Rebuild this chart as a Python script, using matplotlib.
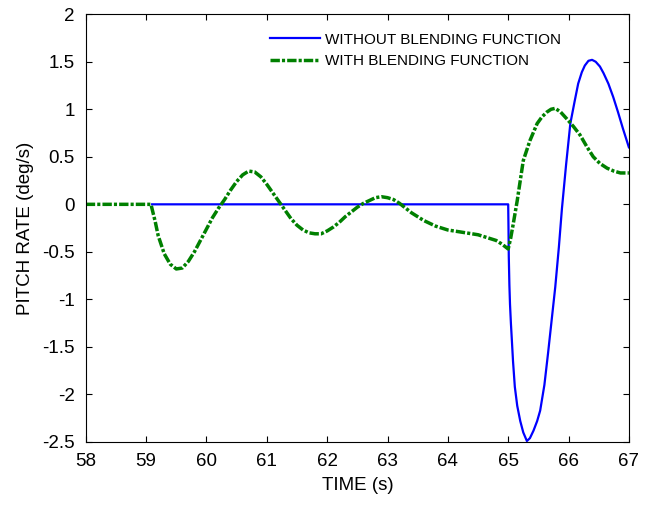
import numpy as np
import matplotlib
matplotlib.use("Agg")
import matplotlib.pyplot as plt
from matplotlib.ticker import FuncFormatter, MultipleLocator

plt.rcParams['font.family'] = ['Liberation Sans', 'DejaVu Sans']
plt.rcParams['axes.unicode_minus'] = False

# pitch rate without blending function (blue)
t_without = [59.1, 65.0, 65.005, 65.01, 65.02, 65.03, 65.045, 65.06, 65.08, 65.11, 65.15,
             65.2, 65.25, 65.31, 65.36, 65.42, 65.48, 65.53, 65.6, 65.66, 65.72, 65.78,
             65.84, 65.89, 65.96, 66.03, 66.1, 66.16, 66.22, 66.27, 66.33, 66.39, 66.45,
             66.52, 66.58, 66.66, 66.74, 66.82, 66.9, 67.0]
q_without = [0.0, 0.0, -0.25, -0.55, -0.85, -1.05, -1.25, -1.42, -1.65, -1.92, -2.12,
             -2.28, -2.4, -2.49, -2.46, -2.38, -2.28, -2.17, -1.9, -1.57, -1.22, -0.87,
             -0.45, -0.05, 0.42, 0.85, 1.08, 1.27, 1.39, 1.46, 1.51, 1.52, 1.5,
             1.45, 1.38, 1.27, 1.13, 0.97, 0.8, 0.6]

# pitch rate with blending function (green)
t_with = [58.0, 59.08, 59.15, 59.2, 59.3, 59.4, 59.5, 59.6, 59.7, 59.8, 59.9, 60.0,
          60.1, 60.2, 60.3, 60.4, 60.5, 60.6, 60.7, 60.8, 60.9, 61.0, 61.1, 61.2,
          61.3, 61.4, 61.5, 61.6, 61.7, 61.8, 61.9, 62.0, 62.1, 62.2, 62.3, 62.4,
          62.5, 62.6, 62.7, 62.8, 62.9, 63.0, 63.1, 63.2, 63.3, 63.4, 63.5, 63.6,
          63.7, 63.8, 63.9, 64.0, 64.1, 64.2, 64.3, 64.4, 64.5, 64.6, 64.7, 64.8,
          64.9, 65.0, 65.04, 65.08, 65.15, 65.25, 65.36, 65.48, 65.56, 65.64, 65.71,
          65.78, 65.87, 65.97, 66.08, 66.19, 66.3, 66.41, 66.52, 66.64, 66.75, 66.86,
          67.0]
q_with = [0.0, 0.0, -0.18, -0.33, -0.52, -0.63, -0.68, -0.67, -0.6, -0.5, -0.38, -0.26,
          -0.14, -0.04, 0.05, 0.15, 0.24, 0.31, 0.35, 0.34, 0.29, 0.21, 0.12, 0.03,
          -0.06, -0.15, -0.22, -0.27, -0.3, -0.31, -0.31, -0.28, -0.24, -0.19, -0.13, -0.08,
          -0.03, 0.01, 0.04, 0.07, 0.08, 0.07, 0.05, 0.01, -0.04, -0.09, -0.13, -0.17,
          -0.2, -0.23, -0.25, -0.27, -0.28, -0.29, -0.3, -0.31, -0.32, -0.34, -0.36, -0.38,
          -0.42, -0.47, -0.36, -0.22, 0.04, 0.46, 0.67, 0.85, 0.92, 0.97, 1.0,
          1.01, 0.97, 0.9, 0.82, 0.73, 0.61, 0.5, 0.43, 0.38, 0.35, 0.33,
          0.33]

fig, ax = plt.subplots(figsize=(6.45, 5.08), dpi=100)
fig.subplots_adjust(left=0.133, right=0.975, top=0.972, bottom=0.130)

ax.plot(t_without, q_without, color='#0000ff', lw=1.6, label='WITHOUT BLENDING FUNCTION')
ax.plot(t_with, q_with, color='#008000', lw=2.5, dashes=(2.7, 0.6, 0.9, 0.6),
        label='WITH BLENDING FUNCTION')

ax.set_xlim(58, 67)
ax.set_ylim(-2.5, 2)
ax.xaxis.set_major_locator(MultipleLocator(1))
ax.yaxis.set_major_locator(MultipleLocator(0.5))
ax.yaxis.set_major_formatter(FuncFormatter(lambda v, p: '%g' % v))
ax.tick_params(direction='in', top=True, right=True, labelsize=13.5, length=4.5, pad=8)
ax.set_xlabel('TIME (s)', fontsize=13.5, labelpad=5)
ax.set_ylabel('PITCH RATE (deg/s)', fontsize=13.5, labelpad=6)

ax.legend(loc='upper left', bbox_to_anchor=(0.313, 0.989), frameon=False, fontsize=11,
          handlelength=3.3, handletextpad=0.33, labelspacing=0.5)

fig.savefig('out.png')
